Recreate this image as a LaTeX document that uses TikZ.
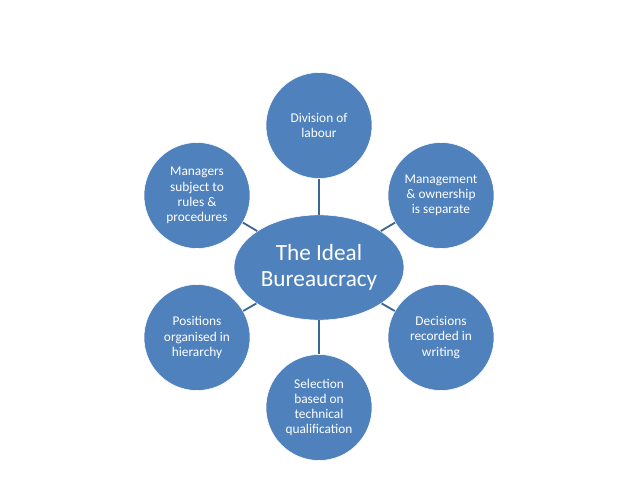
\documentclass[tikz,border=0pt]{standalone}
\usepackage{fontspec}
\setmainfont{Carlito}
\usetikzlibrary{shapes.geometric}
\definecolor{officeblue}{HTML}{4F81BD}
\definecolor{linkblue}{HTML}{3C6694}
\begin{document}
\begin{tikzpicture}[
    x=0.025cm, y=-0.025cm,
    font=\fontsize{9.5}{10.8}\selectfont,
    idea/.style={circle,fill=officeblue,draw=white,line width=0.4pt,
                 text=white,align=center,inner sep=0pt,minimum size=2.65cm},
    centro/.style={ellipse,fill=officeblue,draw=white,line width=0.4pt,
                   text=white,align=center,inner sep=0pt,
                   minimum width=4.25cm,minimum height=2.63cm,
                   font=\fontsize{16.5}{18.6}\selectfont},
    arco/.style={linkblue,line width=1.3pt}]

  \useasboundingbox (0,0) rectangle (638,479);

  \node[centro] (ideal) at (319,267.5) {The Ideal\\Bureaucracy};

  \node[idea] (div)  at (319,125.5) {Division of\\labour};
  \node[idea] (own)  at (441,195.5) {Management\\\& ownership\\is separate};
  \node[idea] (dec)  at (441,337.5) {Decisions\\recorded in\\writing};
  \node[idea] (sel)  at (319,407.5) {Selection\\based on\\technical\\qualification};
  \node[idea] (pos)  at (197,337.5) {Positions\\organised in\\hierarchy};
  \node[idea] (man)  at (197,195.5) {Managers\\subject to\\rules \&\\procedures};

  \foreach \n in {div,own,dec,sel,pos,man}
    \draw[arco] (ideal) -- (\n);

\end{tikzpicture}
\end{document}
